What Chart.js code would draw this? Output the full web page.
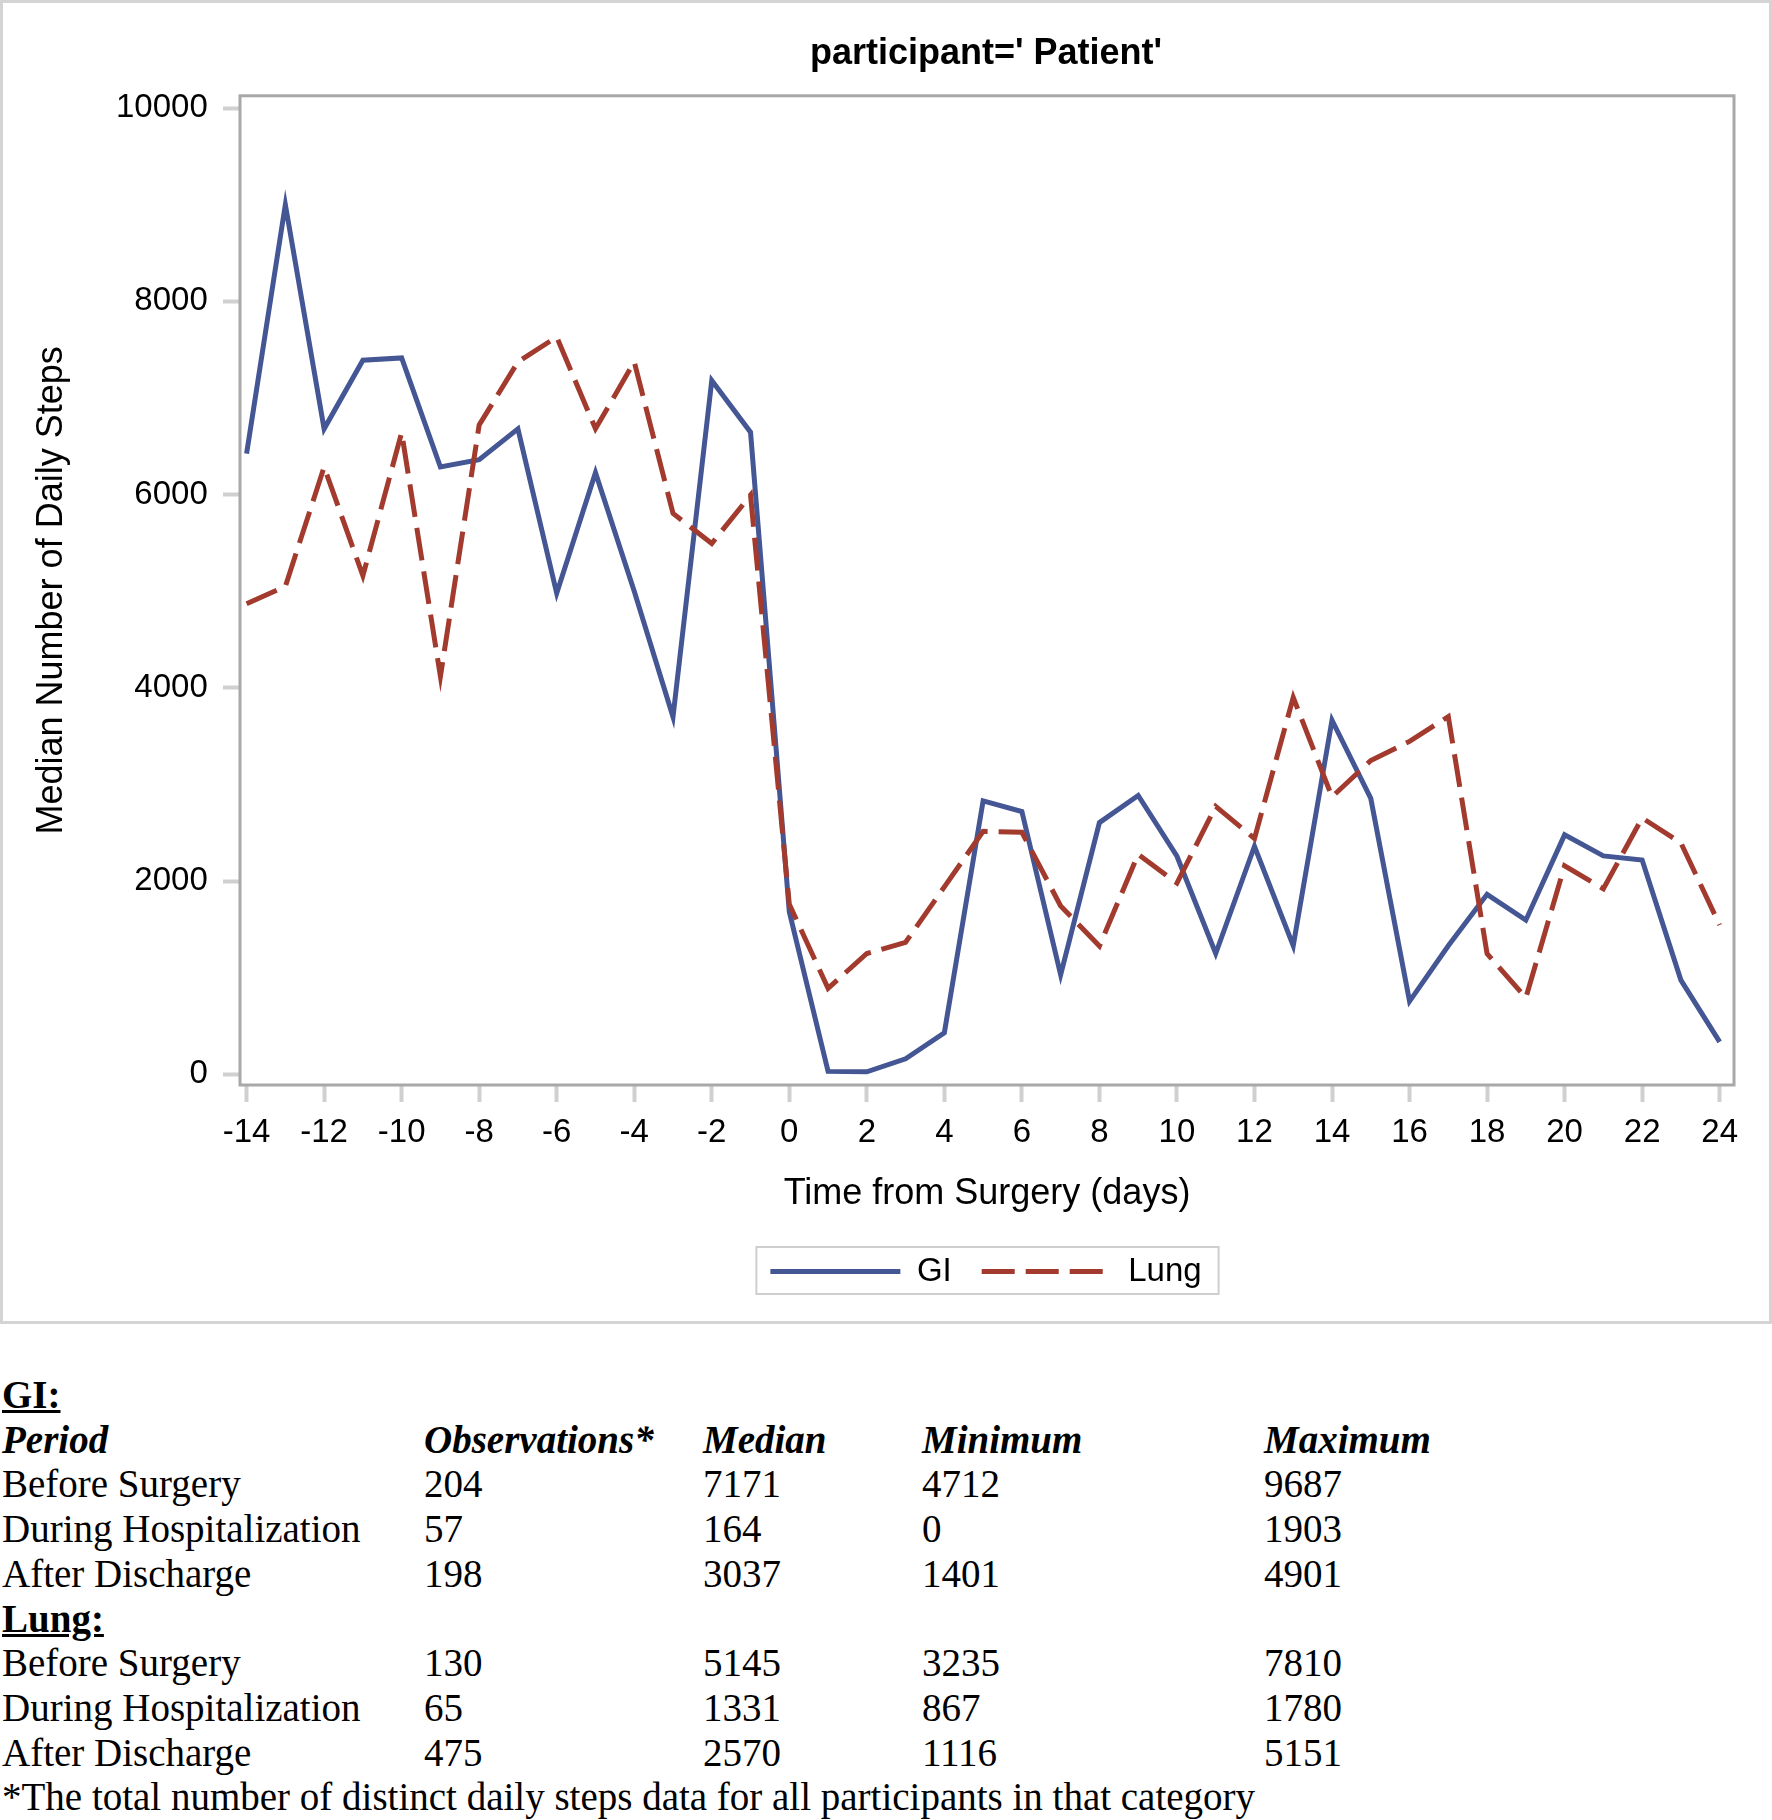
<!DOCTYPE html>
<html>
<head>
<meta charset="utf-8">
<script src="https://cdn.jsdelivr.net/npm/chart.js@4.4.0/dist/chart.umd.min.js"></script>
<style>
  html, body { margin: 0; padding: 0; background: #fff; }
  #stats {
    margin-top: 47px;
    font-family: "Liberation Serif", "Times New Roman", serif;
    font-size: 39px;
    line-height: 44.72px;
    color: #000;
  }
  #stats table { border-collapse: collapse; table-layout: fixed; }
  #stats td { padding: 0; white-space: nowrap; height: 44.72px; vertical-align: middle; }
  #stats td:first-child { padding-left: 2px; }
  .foot { padding-left: 2px; white-space: nowrap; }
</style>
</head>
<body>
<canvas id="stepsChart" width="1772" height="1326"></canvas>
<div id="stats">
  <table id="statsTable">
    <colgroup><col style="width:424px"><col style="width:279px"><col style="width:219px"><col style="width:342px"><col style="width:500px"></colgroup>
    <tbody></tbody>
  </table>
  <div class="foot">*The total number of distinct daily steps data for all participants in that category</div>
</div>
<script>
// jours par rapport a la chirurgie
var days = [-14, -13, -12, -11, -10, -9, -8, -7, -6, -5, -4, -3, -2, -1, 0,
            1, 2, 3, 4, 5, 6, 7, 8, 9, 10, 11, 12, 13, 14, 15, 16, 17, 18, 19, 20, 21, 22, 23, 24];

// pas quotidiens medians
var giSteps = [6423, 9000, 6680, 7390, 7414, 6285, 6360, 6680, 4978, 6226, 5000, 3700, 7180, 6645, 1680,
               30, 25, 160, 430, 2830, 2720, 1030, 2605, 2885, 2257, 1250, 2360, 1330, 3665, 2855, 755, 1330, 1862, 1595, 2478, 2260, 2218, 975, 336];
var lungSteps = [4870, 5050, 6285, 5160, 6641, 4118, 6720, 7373, 7631, 6681, 7373, 5805, 5494, 5994, 1760,
                 890, 1250, 1366, 1940, 2514, 2505, 1742, 1327, 2277, 1979, 2772, 2440, 3900, 2871, 3247, 3445, 3702, 1248, 792, 2158, 1920, 2653, 2395, 1545];

var xTickValues = [-14, -12, -10, -8, -6, -4, -2, 0, 2, 4, 6, 8, 10, 12, 14, 16, 18, 20, 22, 24];
var yTickValues = [0, 2000, 4000, 6000, 8000, 10000];

// tableau sous le graphique
var periods = ['Before Surgery', 'During Hospitalization', 'After Discharge'];
var giObs = [204, 57, 198];
var giMedian = [7171, 164, 3037];
var giMin = [4712, 0, 1401];
var giMax = [9687, 1903, 4901];
var lungObs = [130, 65, 475];
var lungMedian = [5145, 1331, 2570];
var lungMin = [3235, 867, 1116];
var lungMax = [7810, 1780, 5151];

// remplir le tableau
var tbody = document.querySelector('#statsTable tbody');
function addGroup(name, obs, med, mn, mx, withHeader) {
    var html = '<tr><td colspan="5"><b><u>' + name + '</u></b></td></tr>';
    if (withHeader) {
        html += '<tr><td><b><i>Period</i></b></td><td><b><i>Observations*</i></b></td>' +
                '<td><b><i>Median</i></b></td><td><b><i>Minimum</i></b></td><td><b><i>Maximum</i></b></td></tr>';
    }
    for (var i = 0; i < periods.length; i++) {
        html += '<tr><td>' + periods[i] + '</td><td>' + obs[i] + '</td><td>' + med[i] +
                '</td><td>' + mn[i] + '</td><td>' + mx[i] + '</td></tr>';
    }
    tbody.insertAdjacentHTML('beforeend', html);
}
addGroup('GI:', giObs, giMedian, giMin, giMax, true);
addGroup('Lung:', lungObs, lungMedian, lungMin, lungMax, false);

// cadres : bordure exterieure, zone de trace, legende
var framePlugin = {
    id: 'frames',
    beforeDraw: function(chart) {
        var c = chart.ctx;
        c.save();
        c.strokeStyle = '#d4d4d4';
        c.lineWidth = 3;
        c.strokeRect(1.5, 1.5, chart.width - 3, 1321);
        c.restore();
    },
    afterDatasetsDraw: function(chart) {
        var a = chart.chartArea, c = chart.ctx;
        c.save();
        c.strokeStyle = '#a8a8a8';
        c.lineWidth = 3;
        c.strokeRect(a.left, a.top, a.right - a.left, a.bottom - a.top);
        c.restore();
    },
    afterDraw: function(chart) {
        var boxes = chart.legend.legendHitBoxes;
        if (!boxes || !boxes.length) return;
        var l = Infinity, r = -Infinity, t = Infinity, b = -Infinity;
        boxes.forEach(function(h) {
            l = Math.min(l, h.left); r = Math.max(r, h.left + h.width);
            t = Math.min(t, h.top); b = Math.max(b, h.top + h.height);
        });
        var c = chart.ctx;
        c.save();
        c.strokeStyle = '#cfcfcf';
        c.lineWidth = 2;
        c.strokeRect(l - 14, t - 8, (r - l) + 31, (b - t) + 14);
        c.restore();
    }
};

Chart.defaults.font.family = '"Liberation Sans", Arial, sans-serif';
Chart.defaults.color = '#000';

var tickGrid = {
    display: true,
    drawOnChartArea: false,
    drawTicks: true,
    tickLength: 17,
    tickColor: '#d0d0d0',
    tickWidth: 4
};

var ctx = document.getElementById('stepsChart').getContext('2d');
var stepsChart = new Chart(ctx, {
    type: 'line',
    data: {
        datasets: [{
            label: 'GI',
            data: days.map(function(d, i) { return {x: d, y: giSteps[i]}; }),
            borderColor: '#445694',
            backgroundColor: '#445694',
            borderWidth: 5,
            pointRadius: 0,
            tension: 0,
            order: 2
        }, {
            label: 'Lung',
            data: days.map(function(d, i) { return {x: d, y: lungSteps[i]}; }),
            borderColor: '#A23A2E',
            backgroundColor: '#A23A2E',
            borderWidth: 5,
            borderDash: [33, 11],
            pointRadius: 0,
            tension: 0,
            order: 1
        }]
    },
    options: {
        responsive: false,
        animation: false,
        layout: {
            padding: {left: 238, right: 38, top: 0, bottom: 28}
        },
        plugins: {
            title: {
                display: true,
                text: "participant=' Patient'",
                color: '#000',
                font: {size: 36, weight: 'bold'},
                padding: {top: 32.8, bottom: 19.8}
            },
            legend: {
                position: 'bottom',
                labels: {
                    usePointStyle: true,
                    pointStyle: 'line',
                    pointStyleWidth: 130,
                    boxHeight: 33,
                    padding: 30,
                    color: '#000',
                    font: {size: 33},
                    sort: function(a, b) { return a.datasetIndex - b.datasetIndex; },
                    generateLabels: function(chart) {
                        var items = Chart.defaults.plugins.legend.labels.generateLabels(chart);
                        items.forEach(function(it) {
                            var ds = chart.data.datasets[it.datasetIndex];
                            it.lineDash = ds.borderDash || [];
                            it.lineWidth = ds.borderWidth;
                            it.strokeStyle = ds.borderColor;
                        });
                        return items;
                    }
                }
            },
            tooltip: {enabled: false}
        },
        scales: {
            x: {
                type: 'linear',
                min: -14.17,
                max: 24.37,
                afterBuildTicks: function(s) {
                    s.ticks = xTickValues.map(function(v) { return {value: v}; });
                },
                afterFit: function(s) { s.height = 140; },
                ticks: {
                    autoSkip: false,
                    maxRotation: 0,
                    padding: 11,
                    color: '#000',
                    font: {size: 33},
                    callback: function(v) { return String(v); }
                },
                grid: tickGrid,
                border: {display: false},
                title: {
                    display: true,
                    text: 'Time from Surgery (days)',
                    color: '#000',
                    font: {size: 36},
                    padding: {top: 0, bottom: 9}
                }
            },
            y: {
                type: 'linear',
                min: -111,
                max: 10127,
                afterBuildTicks: function(s) {
                    s.ticks = yTickValues.map(function(v) { return {value: v}; });
                },
                afterFit: function(s) { s.width = 2; },
                ticks: {
                    // mirror + far : etiquettes alignees a droite hors de la zone
                    mirror: true,
                    crossAlign: 'far',
                    padding: -124,
                    color: '#000',
                    font: {size: 33},
                    callback: function(v) { return String(v); }
                },
                grid: tickGrid,
                border: {display: false},
                title: {
                    display: true,
                    text: 'Median Number of Daily Steps',
                    color: '#000',
                    font: {size: 36},
                    padding: {top: -207.6, bottom: 0}
                }
            }
        }
    },
    plugins: [framePlugin]
});
</script>
</body>
</html>
